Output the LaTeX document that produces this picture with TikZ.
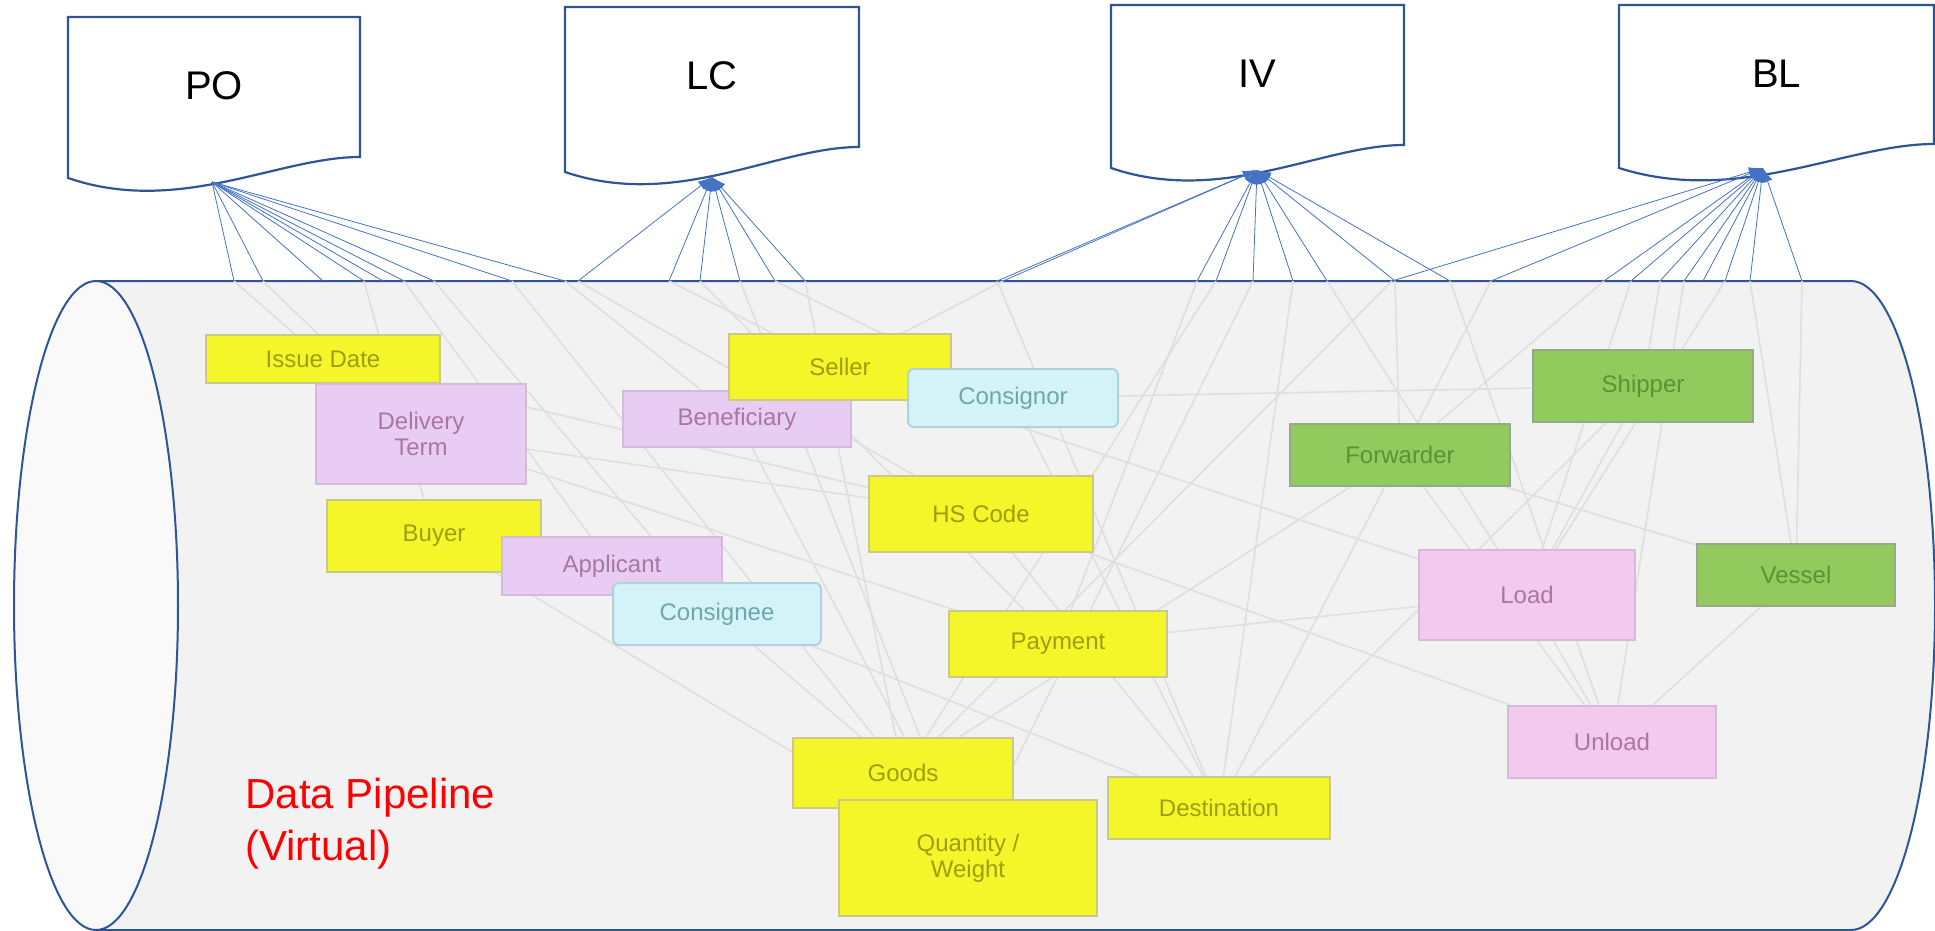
\documentclass[tikz,border=0pt]{standalone}
\usepackage{fontspec}
\setmainfont{Liberation Sans}
\usetikzlibrary{arrows.meta,backgrounds}

\definecolor{docblue}{HTML}{2F5597}
\definecolor{linkblue}{HTML}{4472C4}
\definecolor{pipefill}{HTML}{F2F2F2}
\definecolor{ylwfill}{HTML}{F4F62A}
\definecolor{ylwline}{HTML}{C9C98A}
\definecolor{ylwtext}{HTML}{9E9E10}
\definecolor{pnkfill}{HTML}{F3C9EE}
\definecolor{lvdfill}{HTML}{E8CCF3}
\definecolor{pnkline}{HTML}{D2BCD8}
\definecolor{pnktext}{HTML}{A9779F}
\definecolor{cynfill}{HTML}{D3F3F8}
\definecolor{cynline}{HTML}{AFD3DA}
\definecolor{cyntext}{HTML}{6FA7AA}
\definecolor{grnfill}{HTML}{92CA5E}
\definecolor{grnline}{HTML}{93A987}
\definecolor{grntext}{HTML}{5C9233}

% document shape: name, left, right, top, left foot, right foot, label
\newcommand{\docshape}[7]{%
  \draw[doc] (#2,#4) -- (#3,#4) -- (#3,#6)
    .. controls ({#2+0.72*(#3-#2)},#6) and ({#2+0.38*(#3-#2)},{#5+38}) .. (#2,#5) -- cycle;
  \node[doclabel] (#1) at ({(#2+#3)/2},{#4+69}) {#7};
}

\begin{document}
\begin{tikzpicture}
    [x=0.5pt, y=-0.5pt,
     doc/.style = {fill=white, draw=docblue, line width=1.1pt},
     doclabel/.style = {font=\fontsize{20}{22}\selectfont},
     link/.style = {linkblue, line width=0.4pt},
     tolink/.style = {link, {Latex[length=7pt,width=5pt]}-},
     faint/.style = {gray!25, line width=0.8pt},
     field/.style = {draw, line width=1pt, minimum height=32pt, inner sep=2pt,
                     align=center, font=\fontsize{12}{13}\selectfont},
     ylw/.style = {field, fill=ylwfill, draw=ylwline, text=ylwtext},
     pnk/.style = {field, fill=pnkfill, draw=pnkline, text=pnktext},
     lvd/.style = {field, fill=lvdfill, draw=pnkline, text=pnktext},
     cyn/.style = {field, fill=cynfill, draw=cynline, text=cyntext, rounded corners=3pt},
     grn/.style = {field, fill=grnfill, draw=grnline, text=grntext}]
        \useasboundingbox (0,0) rectangle (1935,931);

        % pipeline cylinder
        \begin{pgfonlayer}{background}
        \fill[pipefill] (96,281) -- (1851,281)
            arc[start angle=90, end angle=-90, x radius=42pt, y radius=162.25pt] -- (96,930) -- cycle;
        \draw[docblue, line width=1pt] (96,281) -- (1851,281)
            arc[start angle=90, end angle=-90, x radius=42pt, y radius=162.25pt] -- (96,930);
        \draw[docblue, line width=1pt, fill=white!55!pipefill] (96,605.5) ellipse [x radius=41pt, y radius=162.25pt];
        \end{pgfonlayer}

        % documents
        \docshape{po}{68}{360}{17}{178}{157}{PO}
        \docshape{lc}{565}{859}{7}{172}{147}{LC}
        \docshape{iv}{1111}{1404}{5}{168}{145}{IV}
        \docshape{bl}{1619}{1934}{5}{168}{144}{BL}
        \coordinate (po-tip) at (212,182);
        \coordinate (lc-tip) at (712,177);
        \coordinate (iv-tip) at (1257,170);
        \coordinate (bl-tip) at (1763,168);

        % fields
        \node[ylw, minimum width=117pt, minimum height=24pt] (date) at (323,359) {Issue Date};
        \node[lvd, minimum width=105pt, minimum height=50pt] (term) at (421,434) {Delivery\\Term};
        \node[ylw, minimum width=107pt, minimum height=36pt] (buyer) at (434,536) {Buyer};
        \node[lvd, minimum width=110pt, minimum height=29pt] (appl) at (612,566) {Applicant};
        \node[cyn, minimum width=104pt, minimum height=31pt] (cnee) at (717,614) {Consignee};
        \node[lvd, minimum width=114pt, minimum height=28pt] (benef) at (737,419) {Beneficiary};
        \node[ylw, minimum width=111pt, minimum height=33pt] (seller) at (840,367) {Seller};
        \node[cyn, minimum width=105pt, minimum height=29pt] (cnor) at (1013,398) {Consignor};
        \node[ylw, minimum width=112pt, minimum height=38pt] (hs) at (981,514) {HS Code};
        \node[ylw, minimum width=109pt, minimum height=33pt] (pay) at (1058,644) {Payment};
        \node[ylw, minimum width=110pt, minimum height=35pt] (goods) at (903,773) {Goods};
        \node[ylw, minimum width=129pt, minimum height=58pt] (qty) at (968,858) {Quantity /\\Weight};
        \node[ylw, minimum width=111pt, minimum height=31pt] (dest) at (1219,808) {Destination};
        \node[grn, minimum width=110pt, minimum height=31pt] (fwd) at (1400,455) {Forwarder};
        \node[grn, minimum width=110pt, minimum height=36pt] (ship) at (1643,386) {Shipper};
        \node[pnk, minimum width=108pt, minimum height=45pt] (load) at (1527,595) {Load};
        \node[grn, minimum width=99pt, minimum height=31pt] (vessel) at (1796,575) {Vessel};
        \node[pnk, minimum width=104pt, minimum height=36pt] (unload) at (1612,742) {Unload};

        \node[text=red, anchor=north west, inner sep=0pt, align=left,
              font=\fontsize{21}{26}\selectfont] (pipe) at (245,778) {Data Pipeline\\(Virtual)};

        % links from the documents to the pipeline
        \foreach \x [count=\i] in {234,263,323,364,383,404,434,512,565}
            {\coordinate (po\i) at (\x,281); \draw[link] (po-tip) -- (po\i);}
        \foreach \x [count=\i] in {578,669,700,740,775,805}
            {\coordinate (lc\i) at (\x,281); \draw[tolink] (lc-tip) -- (lc\i);}
        \foreach \x [count=\i] in {997,1003,1197,1216,1253,1293,1327,1395,1450}
            {\coordinate (iv\i) at (\x,281); \draw[tolink] (iv-tip) -- (iv\i);}
        \foreach \x [count=\i] in {1392,1491,1604,1631,1660,1684,1703,1725,1750,1802}
            {\coordinate (bl\i) at (\x,281); \draw[tolink] (bl-tip) -- (bl\i);}

        % faint links inside the pipeline
        \begin{pgfonlayer}{background}
        \foreach \a/\b in {po1/date, po2/term, po4/buyer, po6/appl, po7/cnee, po8/goods, po9/benef,
                           lc1/hs, lc2/seller, lc3/pay, lc4/qty, lc5/cnor, lc6/goods,
                           iv1/dest, iv2/benef, iv3/pay, iv4/goods, iv5/qty, iv6/dest, iv7/load, iv8/fwd, iv9/unload,
                           bl1/goods, bl2/dest, bl3/fwd, bl4/load, bl5/ship, bl6/unload, bl8/load, bl9/vessel, bl10/vessel}
            \draw[faint] (\a) -- (\b);
        \foreach \a/\b in {date/hs, term/pay, buyer/qty, appl/dest, cnee/goods, benef/qty, seller/load,
                           cnor/dest, hs/unload, pay/load, fwd/goods, fwd/unload, ship/dest, ship/load,
                           load/unload, vessel/unload, vessel/fwd, cnor/ship, hs/dest, term/hs}
            \draw[faint] (\a) -- (\b);
        \end{pgfonlayer}
\end{tikzpicture}
\end{document}
